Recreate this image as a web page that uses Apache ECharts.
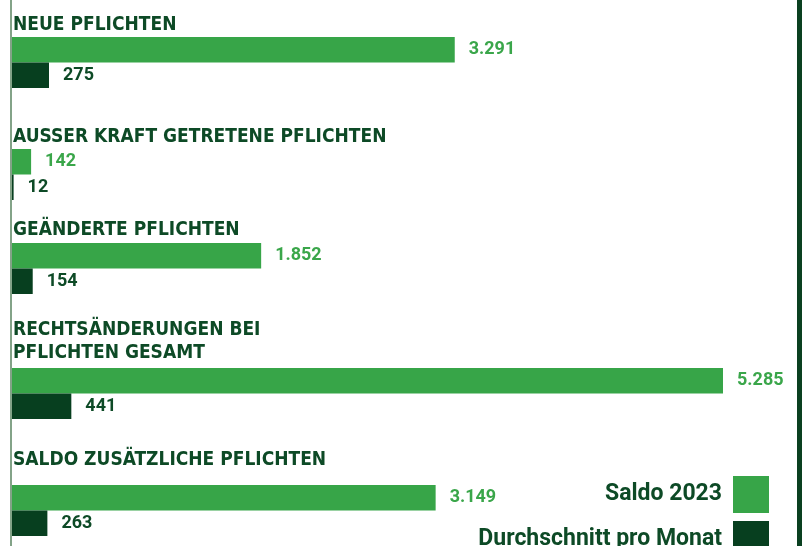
<!DOCTYPE html>
<html>
<head>
<meta charset="utf-8">
<script src="https://cdn.jsdelivr.net/npm/echarts@6/dist/echarts.min.js"></script>
<style>
  html, body { margin: 0; padding: 0; background: #fff; }
  #chart { width: 802px; height: 546px; }
</style>
</head>
<body>
<div id="chart"></div>
<script>
// Kategorien und Werte
var categories = ['NEUE PFLICHTEN', 'AUSSER KRAFT GETRETENE PFLICHTEN', 'GEÄNDERTE PFLICHTEN', 'RECHTSÄNDERUNGEN BEI\nPFLICHTEN GESAMT', 'SALDO ZUSÄTZLICHE PFLICHTEN'];
var saldo2023 = [3291, 142, 1852, 5285, 3149];
var proMonat = [275, 12, 154, 441, 263];
var seriesNames = ['Saldo 2023', 'Durchschnitt pro Monat'];

// Layout (Pixel)
var groupTop = [37, 149, 243, 368, 485];
var titleY = [25.5, 137.5, 230.5, 341.5, 460.5];
var legendTop = [476, 521];

var hell = '#37a548';
var dunkel = '#073f1f';
var textDunkel = '#0d4a26';
var titleFont = "'DejaVu Sans Condensed', 'Liberation Sans Narrow', Roboto, sans-serif";
var numFont = "Roboto, 'Liberation Sans', sans-serif";

function fmt(v) {
  return String(v).replace(/\B(?=(\d{3})+(?!\d))/g, '.');
}

var maxVal = Math.max.apply(null, saldo2023);
var grids = [], xAxes = [], yAxes = [], series = [], graphics = [], legends = [];

for (var i = 0; i < categories.length; i++) {
  grids.push({ left: 12, right: 79, top: groupTop[i], height: 51 });
  xAxes.push({ type: 'value', gridIndex: i, min: 0, max: maxVal, show: false });
  yAxes.push({ type: 'category', gridIndex: i, data: [categories[i]], inverse: true, show: false });
  series.push({
    name: seriesNames[0], type: 'bar', xAxisIndex: i, yAxisIndex: i,
    data: [saldo2023[i]], barGap: 0, barCategoryGap: 0,
    itemStyle: { color: hell }, silent: true,
    label: {
      show: true, position: 'right', distance: 14,
      formatter: function(p) { return fmt(p.value); },
      color: '#3aa64a', fontFamily: numFont, fontWeight: 'bold', fontSize: 18
    }
  });
  series.push({
    name: seriesNames[1], type: 'bar', xAxisIndex: i, yAxisIndex: i,
    data: [proMonat[i]], barGap: 0, barCategoryGap: 0,
    itemStyle: { color: dunkel }, silent: true,
    label: {
      show: true, position: 'right', distance: 14,
      formatter: function(p) { return fmt(p.value); },
      color: textDunkel, fontFamily: numFont, fontWeight: 'bold', fontSize: 18
    }
  });
  graphics.push({
    type: 'text', left: 13, top: titleY[i] - (categories[i].indexOf('\n') > -1 ? 23 : 11.5),
    style: {
      text: categories[i], fill: textDunkel, fontFamily: titleFont,
      fontWeight: 'bold', fontSize: 19, lineHeight: 23
    }
  });
}

// Legende: zwei Komponenten, damit nichts umbricht
for (var k = 0; k < seriesNames.length; k++) {
  legends.push({
    data: [seriesNames[k]], right: 33, top: legendTop[k], padding: 0,
    itemWidth: 36, itemHeight: 37, align: 'right',
    icon: 'rect', selectedMode: false,
    textStyle: { color: textDunkel, fontFamily: numFont, fontWeight: 'bold', fontSize: 23, padding: [0, 6, 0, 0] }
  });
}

// Linien links und rechts
graphics.push({ type: 'rect', shape: { x: 10, y: 0, width: 2, height: 546 }, style: { fill: '#83a388' } });
graphics.push({ type: 'rect', shape: { x: 797, y: 0, width: 5, height: 546 }, style: { fill: '#0a4020' } });

var chart = echarts.init(document.getElementById('chart'));
chart.setOption({
  animation: false,
  grid: grids,
  xAxis: xAxes,
  yAxis: yAxes,
  series: series,
  legend: legends,
  graphic: graphics
});
</script>
</body>
</html>
